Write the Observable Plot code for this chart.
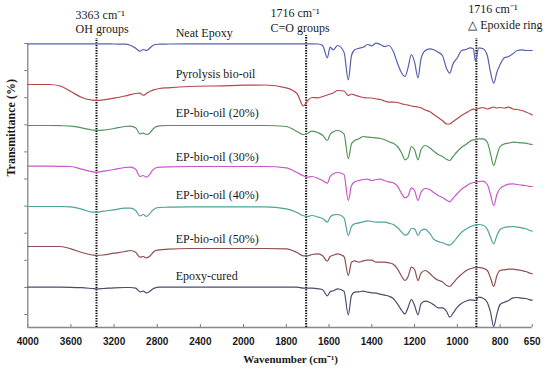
<!DOCTYPE html>
<html><head><meta charset="utf-8">
<script src="https://cdn.jsdelivr.net/npm/d3@7"></script>
<script src="https://cdn.jsdelivr.net/npm/@observablehq/plot@0.6"></script>
<style>body{margin:0;background:#fff} #chart svg{display:block}</style>
</head><body><div id="chart"></div>
<script>
// Wavenumber grid (cm-1), shared by all spectra
const wavenumbers = [4000,3800,3700,3600,3500,3400,3363,3300,3200,3100,3050,3000,2960,2930,2900,2870,2850,2820,2780,2700,2500,2200,2000,
  1900,1800,1750,1720,1700,1680,1650,1630,1608,1595,1580,1560,1530,1510,1495,1480,1460,1440,1420,1400,1380,1360,1340,1320,1300,1280,1260,1245,1230,1215,1200,1184,1170,1150,1130,1110,1090,1070,1050,1036,1020,1000,980,960,940,925,915,900,880,860,845,830,815,800,780,760,740,720,700,680,660,650];

// Stacked transmittance (arbitrary units, offset spectra)
const neatEpoxy = [283.7,283.7,283.7,283.7,283.7,283.7,283.7,283.7,283.5,283.3,282.3,279.3,276.3,278,277,279.3,281.3,283,283.3,283.5,283.7,283.7,283.7,
  283.7,283.7,283.7,283.7,283.7,283.7,283.5,282,269.7,280.3,277.7,282,275.3,247.7,272,277.7,279.3,280.3,283,281.7,284.3,283,281,282,276.3,264.3,254.3,251,260.3,273,265.3,249.7,268.7,277,278.7,277.7,275.3,272,258.7,254.3,263.7,269.7,277,278,279.7,278.7,266.3,279.7,278.7,272,255.3,244.3,255.3,263,269.7,271,273.7,277,277.7,277,277,277];
const pyrolysisOil = [243,243,241.5,236,230,227.3,227,227.7,229.3,231.5,232.8,234,234.3,232.3,234,236,237,238,239,239.7,241,241.7,242.3,
  242.5,239.7,234,221.5,227,230,229.7,231,232.5,233.5,234.5,237,236.5,232,233.5,232.5,231,230,229.5,229.5,228.5,228,226.5,225.3,225.3,225,223.7,223,222.3,221.5,221,220.5,219.7,217.5,216,213,210,207,203.5,203.5,206,209,212,214.5,217,218.3,218,219,220,218.5,219.5,220.5,219.5,220,219.5,220.3,218.5,218,217,215.5,213.7,212.5];
const epOil20 = [202,202,201.8,201.3,199.7,197.5,197,197.3,199,201,201.3,199.7,193.7,194.3,193,194.3,197,200.3,201.7,202,202,202,202,
  202,201,196,193,194.3,196.3,194.7,192.3,187,193,195.7,197,193.7,168.7,183.7,187,188.7,191,190.3,190,189.7,189,187.7,185.7,184.3,181,174.3,167.7,170.3,181,177.7,167.7,177.7,182,179.7,176.3,173,171,168,167,171,176,180.3,183,186.3,187.7,187.7,188.7,188.7,185.3,173.7,162,172,181,183.7,184.3,185.3,185,184.7,184.3,183.3,183];
const epOil30 = [161.3,161.3,161.2,161,158.3,155.7,155.3,156.3,158,160,160.3,158.3,151,152,150.3,153,156.3,159.3,160.3,160.7,161,161,161,
  161,159.7,155,151.7,150.3,151,149,147,144.3,151,153.7,155,153,127,142,145.7,147,148,148.3,147,148,148.3,146.7,145.7,144.7,141.3,133.7,129.7,131.7,139.7,137,127,135.3,139,138,135,132,130,127.3,125.7,129.3,134,138.3,141.3,144,145,145.3,146,146.3,143,133,122,133,139,141.7,143.3,143.7,143,142.3,142,141,141];
const epOil40 = [121,121,121,120.7,118.3,115.3,115.3,116.3,117.7,119.3,119.3,117,111.7,113,111,113.7,116.3,119,120,120.3,120.7,120.7,120.7,
  120.7,118.7,115,111.7,111,112,110.3,109,105.3,110.3,112.7,113,109.7,92,101,103.7,104.7,105.7,106.7,106,105.3,105.3,105.3,104.3,103,100,95.3,92.3,93.7,99,98.7,92,97,98.3,94.3,88.3,86,84.7,83,82.3,85,90.3,95.3,98.3,100.7,102,102.7,103,102.3,98.3,90.3,83.7,92,98,100,100.7,101,100.3,99.7,98.7,97,96.3];
const epOil50 = [81,81,81,78.7,75,72.5,72,72.5,74.3,76,77,75.3,70.3,71,69.7,71.3,73.7,76.7,77.7,78.3,79,79,79,
  79,78.7,75,71.7,71.7,73,73.7,71.7,66.3,71,72.3,73.7,71,52,65.3,66.7,65.3,66.7,67.3,67.3,65.3,65.3,65.3,64.7,63.3,58.7,51,47,51,60.3,58,47,54.3,57,54.3,50,47.3,45.7,42,41,44.3,49.3,53.3,56.7,58.7,59.7,60.3,60,59.3,57,49.7,41,52,57,57.7,58.3,58.3,57.7,57,56,54.3,53.7];
const epoxyCured = [40.3,40.3,40.3,40.2,39.8,39,38.7,39,39.7,40,40,39.3,35.7,36.3,34.7,36,37.7,39.7,40.3,40.3,40.3,40.3,40.3,
  40.3,40.3,40.3,39.3,39.3,39.3,38.7,37.7,31.7,35.7,36.7,38.7,36.3,12.7,32,35.3,35.7,36.3,35.3,34.7,34.3,33.3,32.3,31.3,29,23.7,17,13.7,20.3,28,22,12.7,23.7,26.3,25.3,22.7,19.7,19.7,16,10.3,14.3,20.3,24.3,26.3,27.7,27.3,27,30.3,29.3,25,15.3,1,13.7,23,25.3,27,29.7,30,29.3,29,27.7,27.3];

const seriesNames = ["Neat Epoxy","Pyrolysis bio-oil","EP-bio-oil (20%)","EP-bio-oil (30%)","EP-bio-oil (40%)","EP-bio-oil (50%)","Epoxy-cured"];
const seriesValues = [neatEpoxy, pyrolysisOil, epOil20, epOil30, epOil40, epOil50, epoxyCured];
const seriesColors = ["#5561ad","#b4484c","#55935a","#c658c6","#4ea39b","#8d5050","#4b4d6c"];
const labelY = [294, 253, 214, 170.3, 132, 88.7, 51];
const labelWn = 2629;

const xTicks = [4000,3600,3200,2800,2400,2000,1800,1600,1400,1200,1000,800,650];
const xTickLabels = ["4000","3600","3200","2800","2400","2000","1800","1600","1400","1200","1000","800","650"];
const yTicks = [13,40.1,67.2,94.3,121.4,148.5,175.6,202.7,229.8,256.9,284];

const markerWn = [3363, 1707, 911];
const markerTop = [289, 292, 289];
const annoText = ["3363 cm⁻¹","OH groups","1716 cm⁻¹","C=O groups","1716 cm⁻¹","△ Epoxide ring"];
const annoWn = [3557, 3557, 1874, 1874, 949, 949];
const annoY = [312, 298, 314, 299, 318.7, 302];

const rows = [];
seriesValues.forEach((vals, i) => vals.forEach((v, j) => rows.push({series: seriesNames[i], wn: wavenumbers[j], t: v})));

const chart = Plot.plot({
  width: 550, height: 372,
  marginLeft: 27.3, marginRight: 18.3, marginTop: 43, marginBottom: 45,
  style: {background: "white", fontFamily: "Liberation Serif", color: "#1a1a1a"},
  x: {type: "linear", domain: [4000, 2000, 650], range: [27.3, 243, 531.7]},
  y: {domain: [0, 284]},
  color: {domain: seriesNames, range: seriesColors},
  marks: [
    Plot.axisX({ticks: xTicks, tickFormat: d => xTickLabels[xTicks.indexOf(d)], tickSize: 0, tickPadding: 10, fontFamily: "Liberation Sans", fontWeight: "bold", fontSize: 10, label: null}),
    Plot.axisY({ticks: yTicks, tickSize: 3, tickFormat: () => "", label: null, stroke: "#777"}),
    Plot.ruleX(xTicks, {x: d => d, y1: 0, y2: 3, stroke: "#777"}),
    Plot.ruleX([4000], {stroke: "#888", strokeWidth: 1.3}),
    Plot.ruleY([0], {stroke: "#888", strokeWidth: 1.3}),
    Plot.ruleX(markerWn, {x: d => d, y1: 0, y2: (d, i) => markerTop[i], stroke: "#000", strokeWidth: 2, strokeDasharray: "1.3,1.3"}),
    Plot.line(rows, {x: "wn", y: "t", z: "series", stroke: "series", strokeWidth: 1.2, curve: "monotone-x"}),
    Plot.text(seriesNames, {x: () => labelWn, y: (d, i) => labelY[i], text: d => d, textAnchor: "start", fontSize: 12, fill: "#1a1a1a"}),
    Plot.text(annoText, {x: (d, i) => annoWn[i], y: (d, i) => annoY[i], text: d => d, textAnchor: "start", fontSize: 12, fill: "#1a1a1a"}),
    Plot.text(["Wavenumber (cm⁻¹)"], {x: () => 1780, y: () => -32, text: d => d, fontWeight: "bold", fontSize: 11, fill: "#1a1a1a"}),
    Plot.text(["Transmittance (%)"], {frameAnchor: "left", dx: -17, y: () => 151, text: d => d, rotate: -90, fontWeight: "bold", fontSize: 12, fill: "#1a1a1a"})
  ]
});
document.getElementById("chart").append(chart);
</script>
</body></html>
